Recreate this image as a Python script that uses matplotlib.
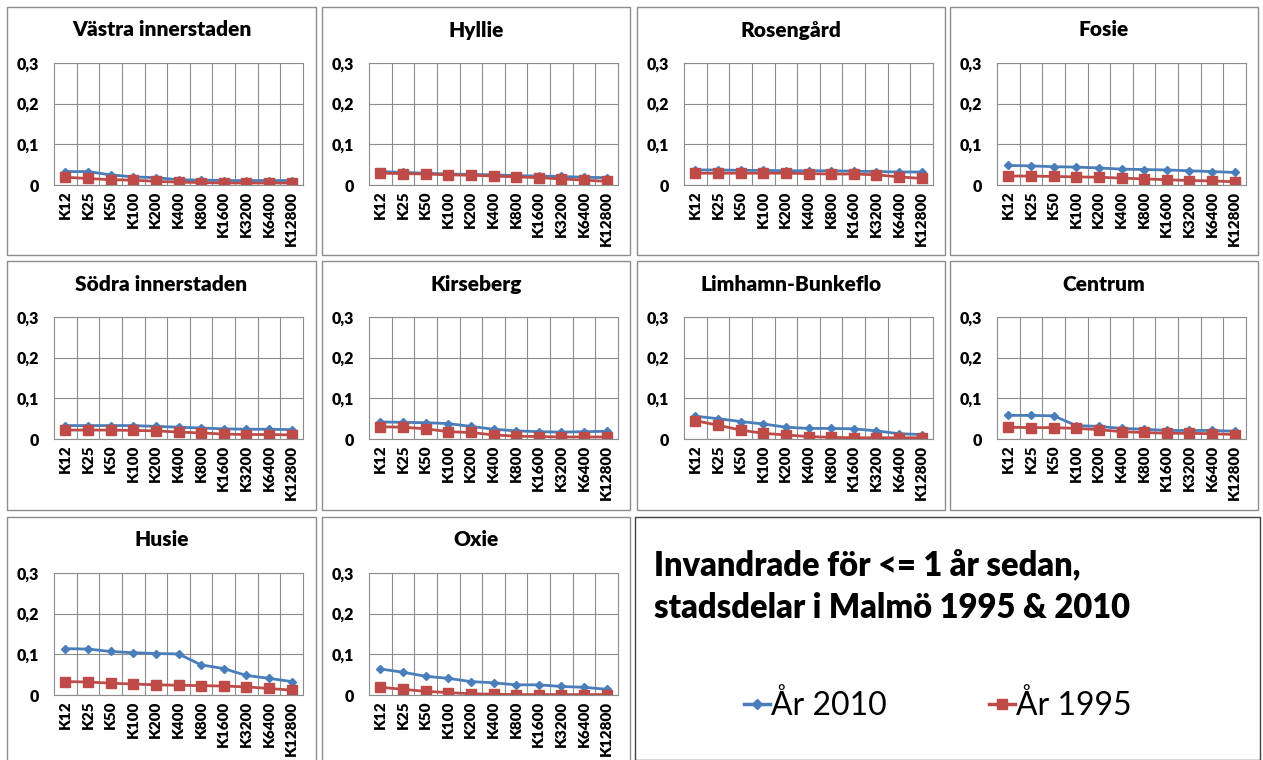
import numpy as np
import matplotlib.pyplot as plt
from matplotlib.patches import Rectangle
from matplotlib.lines import Line2D

plt.rcParams['font.family'] = ['Lato', 'DejaVu Sans']

categories = ["K12", "K25", "K50", "K100", "K200", "K400", "K800",
              "K1600", "K3200", "K6400", "K12800"]

districts = ["Västra innerstaden", "Hyllie", "Rosengård", "Fosie",
             "Södra innerstaden", "Kirseberg", "Limhamn-Bunkeflo", "Centrum",
             "Husie", "Oxie"]

# År 2010
vastra_2010 = [0.033, 0.033, 0.025, 0.020, 0.018, 0.013, 0.012, 0.011, 0.011, 0.011, 0.011]
hyllie_2010 = [0.033, 0.031, 0.029, 0.027, 0.026, 0.025, 0.023, 0.022, 0.021, 0.019, 0.018]
rosengard_2010 = [0.037, 0.037, 0.036, 0.036, 0.035, 0.035, 0.035, 0.034, 0.033, 0.032, 0.032]
fosie_2010 = [0.048, 0.047, 0.045, 0.044, 0.042, 0.039, 0.038, 0.037, 0.035, 0.033, 0.031]
sodra_2010 = [0.033, 0.033, 0.033, 0.033, 0.031, 0.029, 0.027, 0.025, 0.024, 0.024, 0.023]
kirseberg_2010 = [0.042, 0.041, 0.040, 0.038, 0.031, 0.024, 0.020, 0.018, 0.017, 0.018, 0.019]
limhamn_2010 = [0.056, 0.050, 0.043, 0.037, 0.029, 0.026, 0.026, 0.025, 0.020, 0.013, 0.011]
centrum_2010 = [0.058, 0.058, 0.057, 0.033, 0.031, 0.026, 0.024, 0.021, 0.021, 0.021, 0.019]
husie_2010 = [0.114, 0.113, 0.107, 0.104, 0.102, 0.101, 0.074, 0.065, 0.048, 0.041, 0.033]
oxie_2010 = [0.064, 0.056, 0.046, 0.041, 0.033, 0.030, 0.025, 0.025, 0.021, 0.019, 0.014]

# År 1995
vastra_1995 = [0.019, 0.016, 0.013, 0.012, 0.009, 0.007, 0.006, 0.005, 0.005, 0.005, 0.005]
hyllie_1995 = [0.029, 0.028, 0.027, 0.025, 0.024, 0.022, 0.020, 0.018, 0.015, 0.012, 0.009]
rosengard_1995 = [0.029, 0.029, 0.029, 0.029, 0.029, 0.028, 0.027, 0.027, 0.025, 0.020, 0.016]
fosie_1995 = [0.022, 0.022, 0.021, 0.020, 0.019, 0.017, 0.015, 0.013, 0.011, 0.010, 0.008]
sodra_1995 = [0.022, 0.022, 0.022, 0.021, 0.020, 0.017, 0.015, 0.012, 0.011, 0.011, 0.010]
kirseberg_1995 = [0.030, 0.029, 0.025, 0.018, 0.016, 0.010, 0.007, 0.006, 0.005, 0.005, 0.005]
limhamn_1995 = [0.045, 0.034, 0.022, 0.014, 0.010, 0.006, 0.004, 0.003, 0.003, 0.003, 0.003]
centrum_1995 = [0.029, 0.028, 0.028, 0.026, 0.023, 0.018, 0.016, 0.014, 0.014, 0.013, 0.011]
husie_1995 = [0.033, 0.032, 0.029, 0.027, 0.025, 0.024, 0.023, 0.022, 0.020, 0.016, 0.012]
oxie_1995 = [0.019, 0.014, 0.009, 0.006, 0.003, 0.002, 0.001, 0.001, 0.001, 0.001, 0.001]

values_2010 = [vastra_2010, hyllie_2010, rosengard_2010, fosie_2010, sodra_2010,
               kirseberg_2010, limhamn_2010, centrum_2010, husie_2010, oxie_2010]
values_1995 = [vastra_1995, hyllie_1995, rosengard_1995, fosie_1995, sodra_1995,
               kirseberg_1995, limhamn_1995, centrum_1995, husie_1995, oxie_1995]

y_ticks = [0, 0.1, 0.2, 0.3]
y_labels = ["0", "0,1", "0,2", "0,3"]

blue = "#4A7EBB"
red = "#BE4B48"

W, H = 1263, 760
fig = plt.figure(figsize=(W / 100, H / 100), dpi=100)


def px(x0, y0, w, h):
    # pixel box (top-left origin) -> figure fraction
    return [x0 / W, 1 - (y0 + h) / H, w / W, h / H]


col_x = [7, 322, 637, 950]
col_w = [309, 308, 308, 308]
row_y = [7, 261, 517]
row_h = [248, 249, 250]

x = np.arange(len(categories))

for i, name in enumerate(districts):
    r, c = divmod(i, 4)
    bx, by = col_x[c], row_y[r]
    fig.patches.append(Rectangle((bx / W, 1 - (by + row_h[r]) / H), col_w[c] / W, row_h[r] / H,
                                 transform=fig.transFigure, fill=False,
                                 edgecolor="#8c8c8c", linewidth=1.0))
    ax = fig.add_axes(px(bx + 47, by + 56, 249, 122))
    ax.plot(x, values_2010[i], color=blue, linewidth=2, marker="D", markersize=4.5)
    ax.plot(x, values_1995[i], color=red, linewidth=2, marker="s", markersize=6.5)
    ax.set_xlim(-0.5, len(categories) - 0.5)
    ax.set_ylim(0, 0.3)
    ax.set_yticks(y_ticks)
    ax.set_yticklabels(y_labels, fontsize=11.5, fontweight="heavy")
    ax.set_xticks(x)
    ax.set_xticklabels(categories, rotation=90, fontsize=11, fontweight="heavy")
    ax.set_xticks(np.arange(0.5, len(categories) - 1, 1), minor=True)
    ax.tick_params(axis="both", which="both", length=0, pad=4)
    ax.tick_params(axis="y", pad=11)
    ax.grid(True, axis="y", which="major", color="#8c8c8c", linewidth=0.8)
    ax.grid(True, axis="x", which="minor", color="#8c8c8c", linewidth=0.8)
    for s in ax.spines.values():
        s.set_color("#8c8c8c")
        s.set_linewidth(0.8)
    ax.set_axisbelow(True)
    # title centred on the panel box, not on the plot area
    fig.text((bx + col_w[c] / 2) / W, 1 - (by + 23) / H, name, fontsize=15,
             fontweight="heavy", ha="center", va="center")

# Title and legend box
fig.patches.append(Rectangle((635 / W, 0), 625 / W, (H - 517) / H,
                             transform=fig.transFigure, fill=False,
                             edgecolor="#404040", linewidth=1.0))
fig.text(654 / W, 1 - 565 / H, "Invandrade för <= 1 år sedan,", fontsize=23.5,
         fontweight="heavy", va="center", ha="left")
fig.text(654 / W, 1 - 608 / H, "stadsdelar i Malmö 1995 & 2010", fontsize=23.5,
         fontweight="heavy", va="center", ha="left")

handles = [Line2D([], [], color=blue, linewidth=2.5, marker="D", markersize=5),
           Line2D([], [], color=red, linewidth=2.5, marker="s", markersize=7)]
fig.legend(handles, ["År 2010", "År 1995"], loc="center",
           bbox_to_anchor=(938 / W, 1 - 706 / H), ncol=2, frameon=False,
           fontsize=23, handlelength=0.8, handletextpad=0.05, columnspacing=3.2)

fig.savefig("out.png", dpi=100)
